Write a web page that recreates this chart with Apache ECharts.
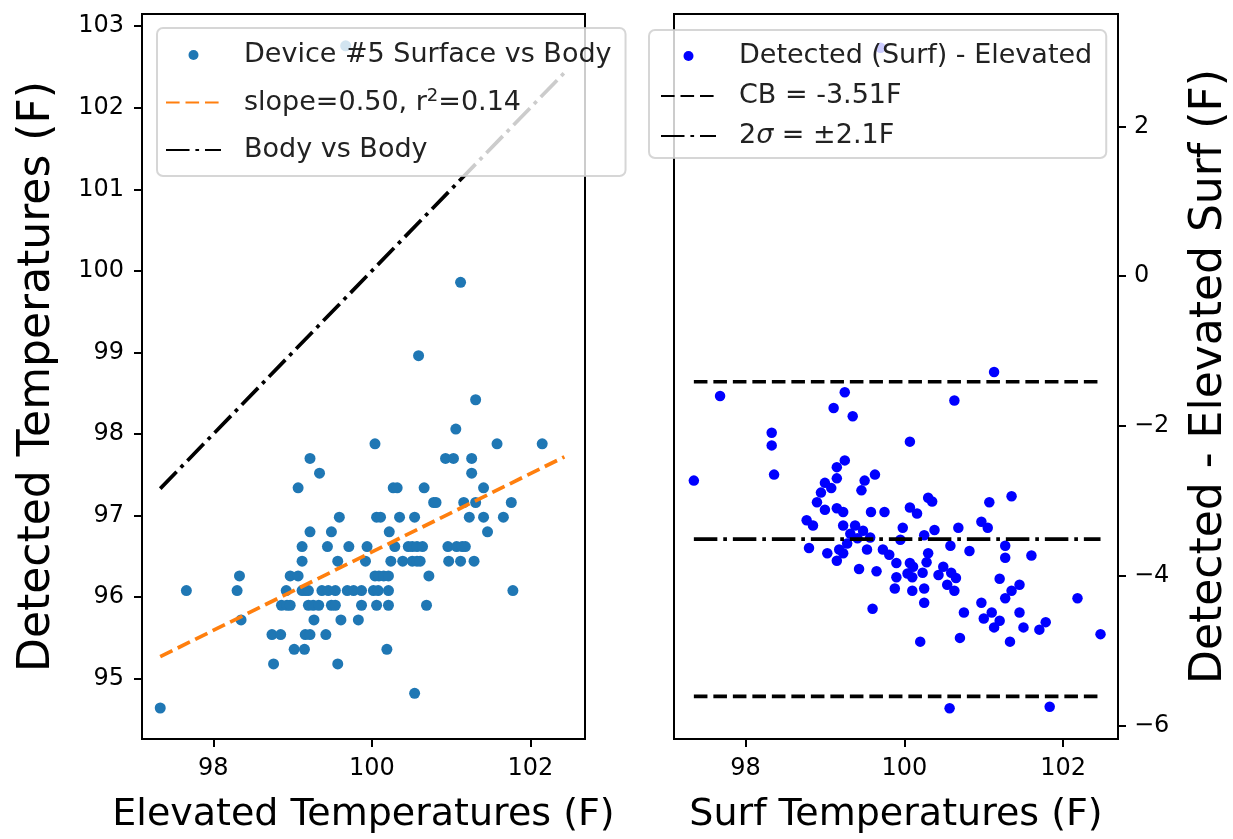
<!DOCTYPE html>
<html>
<head>
<meta charset="utf-8">
<script src="https://cdn.jsdelivr.net/npm/echarts@6/dist/echarts.min.js"></script>
<style>
  html, body { margin: 0; padding: 0; background: #fff; }
  #chart { width: 1233px; height: 839px; }
</style>
</head>
<body>
<div id="chart"></div>
<script>
// left panel: elevated (x) vs detected surface (y)
const devicePoints = [
  [100.59, 98.96],
  [101.31, 98.42],
  [101.06, 98.06],
  [100.04, 97.88], [101.58, 97.88], [102.15, 97.88],
  [99.22, 97.70], [100.93, 97.70], [101.03, 97.70], [101.26, 97.70],
  [99.34, 97.52], [101.26, 97.52],
  [99.07, 97.34], [100.27, 97.34], [100.32, 97.34], [100.66, 97.34], [101.41, 97.34],
  [100.78, 97.16], [100.81, 97.16], [101.16, 97.16], [101.31, 97.16], [101.76, 97.16],
  [99.59, 96.98], [100.06, 96.98], [100.11, 96.98], [100.35, 96.98], [100.54, 96.98], [101.23, 96.98], [101.41, 96.98], [101.66, 96.98],
  [99.22, 96.80], [99.49, 96.80], [100.22, 96.80], [101.46, 96.80],
  [99.12, 96.62], [99.44, 96.62], [99.71, 96.62], [99.94, 96.62], [100.29, 96.62], [100.46, 96.62], [100.51, 96.62],
  [100.57, 96.62], [100.64, 96.62], [100.96, 96.62], [101.07, 96.62], [101.14, 96.62], [101.18, 96.62],
  [99.12, 96.44], [99.57, 96.44], [99.92, 96.44], [100.24, 96.44], [100.39, 96.44], [100.51, 96.44],
  [100.57, 96.44], [100.61, 96.44], [100.97, 96.44], [101.12, 96.44], [101.29, 96.44],
  [98.33, 96.26], [98.97, 96.26], [99.07, 96.26], [100.04, 96.26], [100.09, 96.26], [100.15, 96.26], [100.21, 96.26], [100.72, 96.26],
  [97.66, 96.08], [98.30, 96.08], [98.92, 96.08], [99.12, 96.08], [99.16, 96.08], [99.20, 96.08], [99.37, 96.08], [99.45, 96.08],
  [99.54, 96.08], [99.69, 96.08], [99.77, 96.08], [99.87, 96.08], [100.02, 96.08], [100.08, 96.08], [100.21, 96.08], [101.78, 96.08],
  [98.86, 95.90], [98.93, 95.90], [98.97, 95.90], [99.20, 95.90], [99.26, 95.90], [99.33, 95.90], [99.49, 95.90], [99.54, 95.90],
  [99.87, 95.90], [100.06, 95.90], [100.21, 95.90], [100.69, 95.90],
  [98.35, 95.72], [99.27, 95.72], [99.61, 95.72], [99.83, 95.72],
  [98.74, 95.54], [98.85, 95.54], [99.16, 95.54], [99.22, 95.54], [99.42, 95.54],
  [99.02, 95.36], [99.15, 95.36], [100.19, 95.36],
  [98.76, 95.18], [99.57, 95.18],
  [100.54, 94.82],
  [97.33, 94.64],
  [101.12, 99.86],
  [99.67, 102.76]
];

// fitted line end points and the 1:1 body line
const fitLine = [[97.33, 95.27], [102.43, 97.72]];
const bodyLine = [[97.33, 97.33], [102.43, 102.43]];

// right panel: surf temperature (x) vs detected - elevated (y)
const diffPoints = [
  [101.13, -1.28], [97.68, -1.60], [99.25, -1.55], [100.63, -1.66], [99.11, -1.76], [99.35, -1.87],
  [98.33, -2.09], [98.33, -2.26], [100.07, -2.21], [98.36, -2.65], [97.35, -2.73],
  [99.25, -2.46], [99.15, -2.55], [99.15, -2.70], [99.00, -2.76], [99.08, -2.83], [98.95, -2.89],
  [99.50, -2.73], [99.63, -2.65], [99.46, -2.86], [98.90, -3.02], [99.00, -3.12], [99.15, -3.10],
  [99.23, -3.15], [99.58, -3.15], [99.75, -3.15], [100.07, -3.09], [100.16, -3.17], [100.30, -2.96],
  [100.35, -3.01], [101.07, -3.02], [101.35, -2.94], [98.77, -3.26], [98.85, -3.33], [99.23, -3.33],
  [99.38, -3.33], [99.32, -3.44], [99.48, -3.40], [99.57, -3.49], [99.41, -3.50], [99.98, -3.36],
  [99.95, -3.52], [100.25, -3.46], [100.38, -3.39], [100.68, -3.36], [100.97, -3.28], [101.05, -3.36],
  [98.80, -3.63], [99.03, -3.70], [99.15, -3.80], [99.18, -3.65], [99.23, -3.70], [99.28, -3.57],
  [99.53, -3.65], [99.43, -3.91], [99.65, -3.94], [99.73, -3.65], [99.81, -3.72], [99.90, -3.83],
  [99.90, -4.02], [99.88, -4.17], [100.04, -3.97], [100.07, -3.83], [100.11, -3.88], [100.10, -4.02],
  [100.10, -4.20], [100.23, -3.96], [100.28, -3.82], [100.30, -3.70], [100.25, -4.17], [100.25, -4.36],
  [99.60, -4.44], [100.20, -4.88], [100.43, -3.99], [100.49, -3.88], [100.58, -3.60], [100.59, -3.96],
  [100.65, -4.03], [100.54, -4.12], [100.63, -4.20], [100.82, -3.67], [100.75, -4.49], [100.70, -4.83],
  [100.97, -4.36], [101.00, -4.57], [101.10, -4.49], [101.13, -4.69], [101.20, -4.60], [101.20, -4.04],
  [101.27, -3.60], [101.27, -3.76], [101.27, -4.30], [101.35, -4.20], [101.45, -4.12], [101.45, -4.49],
  [101.50, -4.69], [101.33, -4.88], [101.60, -3.73], [101.70, -4.72], [101.78, -4.62], [102.18, -4.30],
  [102.47, -4.78], [100.57, -5.77], [101.83, -5.75], [99.70, 3.05]
];

const diffRange = [97.35, 102.47];
const meanBias = -3.51;
const limitLines = [-1.41, -5.61];

const xTicks = [98, 100, 102];
const leftYTicks = [95, 96, 97, 98, 99, 100, 101, 102, 103];
const rightYTicks = [-6, -4, -2, 0, 2];

const chart = echarts.init(document.getElementById("chart"), null, { renderer: "canvas" });

const font = "DejaVu Sans";
const tickStyle = { show: true, length: 8, lineStyle: { color: "#000", width: 2 } };
const labelStyle = { fontFamily: font, fontSize: 24, color: "#000" };
const hiddenAxisLine = { show: false, onZero: false };
const noDot = { opacity: 0, color: "rgba(0,0,0,0)", borderWidth: 0 };
const legendBox = {
  orient: "vertical",
  backgroundColor: "rgba(255,255,255,0.8)",
  borderColor: "rgba(204,204,204,0.8)",
  borderWidth: 2,
  borderRadius: 6,
  itemWidth: 55,
  itemHeight: 10,
  textStyle: {
    fontFamily: font,
    fontSize: 27,
    color: "#222",
    lineHeight: 30,
    padding: [0, 0, 0, 18],
    rich: {
      sup: { fontFamily: font, fontSize: 18, color: "#222", verticalAlign: "top", lineHeight: 18 },
      it: { fontFamily: font, fontSize: 27, color: "#222", fontStyle: "italic" },
    },
  },
};

const minus = (v) => String(v).replace("-", "\u2212");

chart.setOption({
  backgroundColor: "#fff",
  animation: false,
  grid: [
    { left: 142, top: 14, width: 443, height: 727, show: true, borderColor: "#000", borderWidth: 2, backgroundColor: "transparent" },
    { left: 674, top: 14, width: 446, height: 727, show: true, borderColor: "#000", borderWidth: 2, backgroundColor: "transparent" },
  ],
  xAxis: [
    {
      gridIndex: 0, type: "value", min: 97.1, max: 102.69,
      name: "Elevated Temperatures (F)", nameLocation: "middle", nameGap: 57,
      nameTextStyle: { fontFamily: font, fontSize: 38, color: "#000" },
      axisLine: hiddenAxisLine, splitLine: { show: false },
      axisTick: { ...tickStyle, customValues: xTicks },
      axisLabel: { ...labelStyle, margin: 18, customValues: xTicks },
    },
    {
      gridIndex: 1, type: "value", min: 97.1, max: 102.69,
      name: "Surf Temperatures (F)", nameLocation: "middle", nameGap: 57,
      nameTextStyle: { fontFamily: font, fontSize: 38, color: "#000" },
      axisLine: hiddenAxisLine, splitLine: { show: false },
      axisTick: { ...tickStyle, customValues: xTicks },
      axisLabel: { ...labelStyle, margin: 18, customValues: xTicks },
    },
  ],
  yAxis: [
    {
      gridIndex: 0, type: "value", min: 94.26, max: 103.15,
      name: "Detected Temperatures (F)", nameLocation: "middle", nameGap: 82,
      nameTextStyle: { fontFamily: font, fontSize: 44, color: "#000" },
      axisLine: hiddenAxisLine, splitLine: { show: false },
      axisTick: { ...tickStyle, customValues: leftYTicks },
      axisLabel: { ...labelStyle, margin: 18, customValues: leftYTicks },
    },
    {
      gridIndex: 1, type: "value", position: "right", min: -6.18, max: 3.5,
      name: "Detected - Elevated Surf (F)", nameLocation: "middle", nameGap: 70,
      nameTextStyle: { fontFamily: font, fontSize: 44, color: "#000" },
      axisLine: hiddenAxisLine, splitLine: { show: false },
      axisTick: { ...tickStyle, customValues: rightYTicks },
      axisLabel: { ...labelStyle, margin: 16, customValues: rightYTicks, formatter: minus },
    },
  ],
  legend: [
    {
      ...legendBox,
      left: 157, top: 28,
      padding: [12, 14, 11, 8],
      itemGap: 17.5,
      data: [
        "Device #5 Surface vs Body",
        { name: "slope=0.50, r2=0.14", itemStyle: noDot },
        { name: "Body vs Body", itemStyle: noDot },
      ],
      formatter: (name) => (name.startsWith("slope") ? "slope=0.50, r{sup|2}=0.14" : name),
    },
    {
      ...legendBox,
      left: 649, top: 30,
      padding: [11, 14, 7, 11],
      itemGap: 10,
      data: [
        "Detected (Surf) - Elevated",
        { name: "CB = -3.51F", itemStyle: noDot },
        { name: "2\u03c3 = \u00b12.1F", itemStyle: noDot },
      ],
      formatter: (name) => (name.startsWith("2") ? "2{it|\u03c3} = \u00b12.1F" : name),
    },
  ],
  series: [
    {
      name: "Device #5 Surface vs Body", type: "scatter", xAxisIndex: 0, yAxisIndex: 0,
      symbolSize: 11, itemStyle: { color: "#1f77b4", opacity: 1 }, data: devicePoints,
    },
    {
      name: "slope=0.50, r2=0.14", type: "line", xAxisIndex: 0, yAxisIndex: 0,
      symbol: "none", lineStyle: { color: "#ff7f0e", width: 3.7, type: [13.6, 5.9] },
      itemStyle: { color: "#ff7f0e" }, data: fitLine,
    },
    {
      name: "Body vs Body", type: "line", xAxisIndex: 0, yAxisIndex: 0,
      symbol: "none", lineStyle: { color: "#000", width: 3.7, type: [23.5, 5.9, 3.7, 5.9] },
      itemStyle: { color: "#000" }, data: bodyLine,
    },
    {
      name: "Detected (Surf) - Elevated", type: "scatter", xAxisIndex: 1, yAxisIndex: 1,
      symbolSize: 10.5, itemStyle: { color: "#0000ff", opacity: 1 }, data: diffPoints,
    },
    ...limitLines.map((v) => ({
      name: "CB = -3.51F", type: "line", xAxisIndex: 1, yAxisIndex: 1,
      symbol: "none", lineStyle: { color: "#000", width: 3.7, type: [13.6, 5.9] },
      itemStyle: { color: "#000" }, data: diffRange.map((x) => [x, v]),
    })),
    {
      name: "2\u03c3 = \u00b12.1F", type: "line", xAxisIndex: 1, yAxisIndex: 1,
      symbol: "none", lineStyle: { color: "#000", width: 3.7, type: [23.5, 5.9, 3.7, 5.9] },
      itemStyle: { color: "#000" }, data: diffRange.map((x) => [x, meanBias]),
    },
  ],
});
</script>
</body>
</html>
